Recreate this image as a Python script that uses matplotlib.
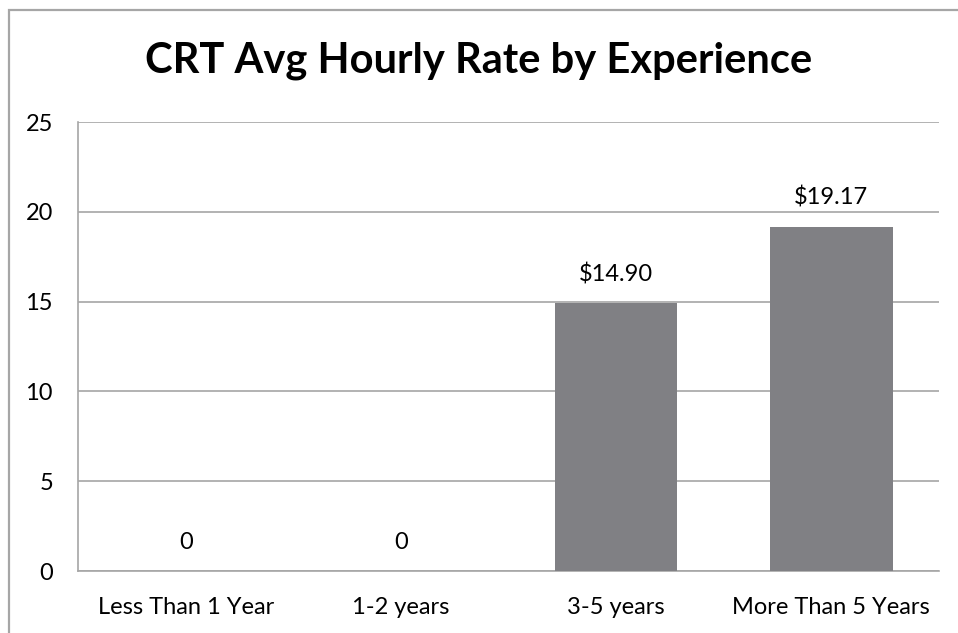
import matplotlib
matplotlib.use("Agg")
import matplotlib.pyplot as plt
from matplotlib.patches import Rectangle

categories = ["Less Than 1 Year", "1-2 years", "3-5 years", "More Than 5 Years"]
rates = [0, 0, 14.90, 19.17]
bar_labels = ["0", "0", "$14.90", "$19.17"]
y_ticks = [0, 5, 10, 15, 20, 25]

plt.rcParams['font.family'] = ['Lato', 'DejaVu Sans']

fig = plt.figure(figsize=(9.58, 6.33), dpi=100)
W, H = 958, 633

# outer chart frame (cropped on right and bottom)
fig.patches.append(Rectangle((9 / W, -0.1), 1.2, 1 - 10 / H + 0.1,
                             transform=fig.transFigure, fill=False,
                             edgecolor='#a6a6a6', linewidth=1.6))

ax = fig.add_axes([78 / W, 1 - 571 / H, 861 / W, 449 / H])
x = range(len(categories))
ax.bar(x, rates, width=0.57, color='#808084', zorder=3)

for i, (v, lab) in enumerate(zip(rates, bar_labels)):
    ax.annotate(lab, (i, v), xytext=(0, 13), textcoords='offset points',
                ha='center', va='bottom', fontsize=17, color='black')

ax.set_xlim(-0.5, len(categories) - 0.5)
ax.set_ylim(0, 25)
ax.set_yticks(y_ticks)
ax.set_xticks(list(x))
ax.set_xticklabels(categories)
ax.tick_params(axis='both', length=0, labelsize=17, colors='black')
ax.tick_params(axis='y', pad=18)
ax.tick_params(axis='x', pad=19)
ax.yaxis.grid(True, color='#a6a6a6', linewidth=1.2, zorder=0)
for s in ['top', 'right']:
    ax.spines[s].set_visible(False)
ax.spines['left'].set_color('#a6a6a6')
ax.spines['bottom'].set_color('#a6a6a6')
ax.spines['left'].set_linewidth(1.2)
ax.spines['bottom'].set_linewidth(1.2)

fig.text(0.5, 1 - 61 / H, "CRT Avg Hourly Rate by Experience", ha='center',
         va='center', fontsize=30, fontweight='bold')

fig.savefig("out.png", dpi=100)
